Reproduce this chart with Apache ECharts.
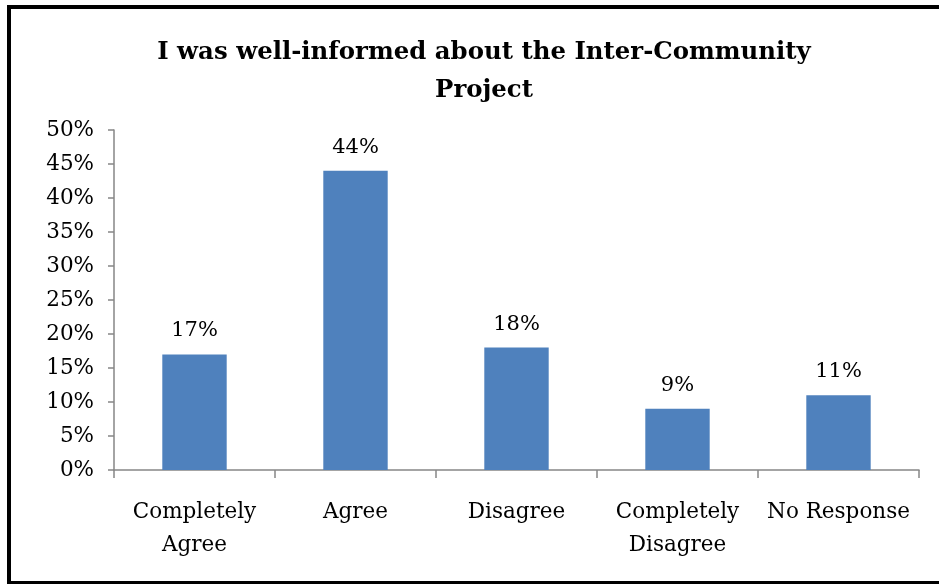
<!DOCTYPE html>
<html>
<head>
<meta charset="utf-8">
<script src="https://cdn.jsdelivr.net/npm/echarts@6/dist/echarts.min.js"></script>
<style>
  html, body { margin: 0; padding: 0; background: #fff; }
  #chart { width: 939px; height: 584px; }
</style>
</head>
<body>
<div id="chart"></div>
<script>
// Survey answers and their shares (percent)
const categories = ['Completely\nAgree', 'Agree', 'Disagree', 'Completely\nDisagree', 'No Response'];
const shares = [17, 44, 18, 9, 11];
const yTicks = { min: 0, max: 50, interval: 5 };

const chart = echarts.init(document.getElementById('chart'));
const serif = 'DejaVu Serif';

chart.setOption({
  backgroundColor: '#fff',
  animation: false,
  title: {
    text: 'I was well-informed about the Inter-Community\nProject',
    left: 479,
    textAlign: 'center',
    top: 29,
    textStyle: {
      fontFamily: serif,
      fontWeight: 'bold',
      fontSize: 24.4,
      lineHeight: 38,
      color: '#000'
    }
  },
  grid: { left: 114, right: 20, top: 130, bottom: 114 },
  xAxis: {
    type: 'category',
    data: categories,
    axisLine: { lineStyle: { color: '#868686', width: 1.5 } },
    axisTick: { show: true, length: 8, lineStyle: { color: '#868686', width: 1.5 } },
    axisLabel: {
      fontFamily: serif,
      fontSize: 21.5,
      color: '#000',
      lineHeight: 33,
      margin: 26,
      interval: 0
    }
  },
  yAxis: {
    type: 'value',
    min: yTicks.min,
    max: yTicks.max,
    interval: yTicks.interval,
    splitLine: { show: false },
    axisLine: { show: true, lineStyle: { color: '#868686', width: 1.5 } },
    axisTick: { show: true, length: 6, lineStyle: { color: '#868686', width: 1.5 } },
    axisLabel: {
      fontFamily: serif,
      fontSize: 21.5,
      color: '#000',
      margin: 20,
      formatter: v => v + '%'
    }
  },
  series: [{
    type: 'bar',
    data: shares,
    barWidth: '40%',
    itemStyle: { color: '#4F81BD' },
    label: {
      show: true,
      position: 'top',
      distance: 13,
      fontFamily: serif,
      fontSize: 21,
      color: '#000',
      formatter: p => p.value + '%'
    }
  }],
  graphic: [
    { type: 'rect', shape: { x: 7, y: 5, width: 4, height: 579 }, style: { fill: '#000' } },
    { type: 'rect', shape: { x: 7, y: 5, width: 932, height: 4 }, style: { fill: '#000' } },
    { type: 'rect', shape: { x: 7, y: 581, width: 932, height: 3 }, style: { fill: '#000' } }
  ]
});
</script>
</body>
</html>
